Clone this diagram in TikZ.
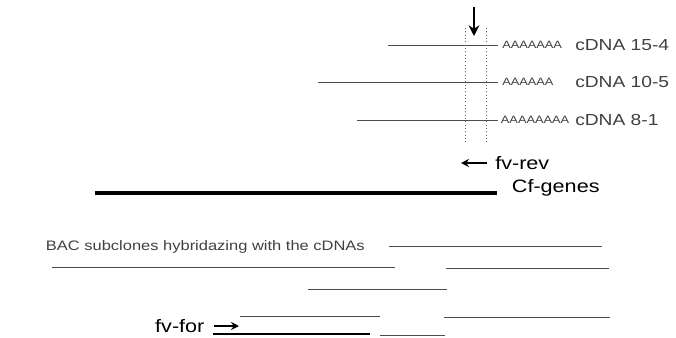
\documentclass[tikz,border=0pt]{standalone}
\usepackage{fontspec}
\setmainfont{Liberation Sans}[FakeStretch=1.2]
\usetikzlibrary{positioning,arrows.meta}
\tikzset{
    clon/.style={draw,line width=0.6pt,black!70},
    gen/.style={draw,line width=3pt},
    corte/.style={draw,dotted,line width=0.5pt,black!60},
    cebador/.style={draw,-{Stealth[length=6pt,width=6pt]},line width=1.4pt},
    polya/.style={right,inner sep=0pt,text=black!75,font=\fontsize{8}{8}\selectfont},
    etiq/.style={right,inner sep=0pt,text=black!75,font=\fontsize{12}{12}\selectfont},
    nombre/.style={right,inner sep=0pt,font=\fontsize{13.5}{13.5}\selectfont},
}

\begin{document}
\begin{tikzpicture}[x=0.75pt,y=-0.75pt]
    \useasboundingbox (0,0) rectangle (676,337);

    % cDNAs
    \coordinate (i154) at (388,45);  \coordinate (f154) at (498,45);
    \coordinate (i105) at (318,82);  \coordinate (f105) at (498,82);
    \coordinate (i81)  at (357,120); \coordinate (f81)  at (498,120);
    \path [clon] (i154) -- (f154);
    \path [clon] (i105) -- (f105);
    \path [clon] (i81) -- (f81);
    \node [polya, right=3pt of f154] (pa154) {AAAAAAA};
    \node [polya, right=3pt of f105] (pa105) {AAAAAA};
    \node [polya, right=2pt of f81]  (pa81)  {AAAAAAAA};
    \node [etiq] (cdna154) at (575,45)  {cDNA 15-4};
    \node [etiq] (cdna105) at (575,82)  {cDNA 10-5};
    \node [etiq] (cdna81)  at (575,120) {cDNA 8-1};

    % zona marcada y flecha
    \coordinate (ma) at (465,28);  \coordinate (mb) at (465,143);
    \coordinate (mc) at (486,28);  \coordinate (md) at (486,143);
    \path [corte] (ma) -- (mb);
    \path [corte] (mc) -- (md);
    \coordinate (fa) at (474,7);   \coordinate (fb) at (474,36);
    \path [cebador, line width=1.8pt, -{Stealth[length=8pt,width=8pt]}] (fa) -- (fb);

    % fv-rev
    \coordinate (ra) at (487,163); \coordinate (rb) at (461,163);
    \path [cebador] (ra) -- (rb);
    \node [nombre, right=6pt of ra] (fvrev) {fv-rev};

    % Cf-genes
    \coordinate (ga) at (95,193);  \coordinate (gb) at (497,193);
    \path [gen] (ga) -- (gb);
    \node [nombre, right=11pt of gb, yshift=4pt] (cf) {Cf-genes};

    % subclones BAC
    \node [etiq, anchor=east, font=\fontsize{10.3}{10.3}\selectfont] (bac) at (365,247)
        {BAC subclones hybridazing with the cDNAs};
    \coordinate (b1a) at (389,246); \coordinate (b1b) at (602,246);
    \coordinate (b2a) at (52,267);  \coordinate (b2b) at (395,267);
    \coordinate (b3a) at (446,268); \coordinate (b3b) at (609,268);
    \coordinate (b4a) at (308,289); \coordinate (b4b) at (447,289);
    \coordinate (b5a) at (240,316); \coordinate (b5b) at (380,316);
    \coordinate (b6a) at (444,317); \coordinate (b6b) at (610,317);
    \coordinate (b7a) at (380,335); \coordinate (b7b) at (445,335);
    \path [clon] (b1a) -- (b1b);
    \path [clon] (b2a) -- (b2b);
    \path [clon] (b3a) -- (b3b);
    \path [clon] (b4a) -- (b4b);
    \path [clon] (b5a) -- (b5b);
    \path [clon] (b6a) -- (b6b);
    \path [clon] (b7a) -- (b7b);

    % fv-for
    \coordinate (ta) at (213,334); \coordinate (tb) at (370,334);
    \path [gen, line width=2.2pt] (ta) -- (tb);
    \coordinate (pa) at (214,326); \coordinate (pb) at (239,326);
    \path [cebador] (pa) -- (pb);
    \node [nombre, left=7pt of pa] (fvfor) {fv-for};
\end{tikzpicture}
\end{document}
